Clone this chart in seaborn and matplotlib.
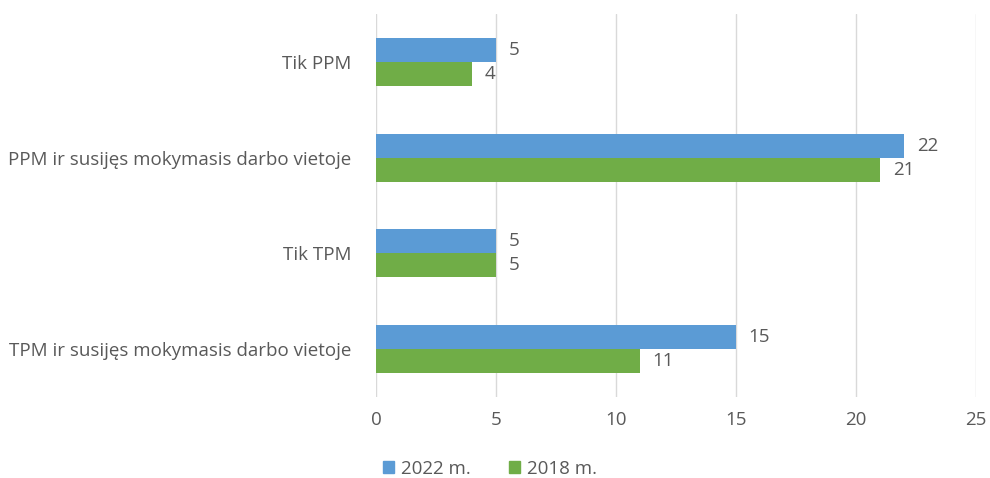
import pandas as pd
import matplotlib
matplotlib.use("Agg")
import matplotlib.pyplot as plt
import seaborn as sns

categories = ["Tik PPM", "PPM ir susijęs mokymasis darbo vietoje", "Tik TPM",
              "TPM ir susijęs mokymasis darbo vietoje"]
series = ["2022 m.", "2018 m."]
values_2022 = [5, 22, 5, 15]
values_2018 = [4, 21, 5, 11]
colors = ["#5B9BD5", "#70AD47"]
xticks = [0, 5, 10, 15, 20, 25]

df = pd.DataFrame({
    "kategorija": categories * 2,
    "metai": [series[0]] * 4 + [series[1]] * 4,
    "reiksme": values_2022 + values_2018,
})

sns.set_style("white")
plt.rcParams['font.family'] = ['Open Sans', 'DejaVu Sans']
text_col = "#595959"
fs = 13.5

fig = plt.figure(figsize=(9.9, 4.78), dpi=100)
ax = fig.add_axes([0.38, 0.17, 0.606, 0.80])

sns.barplot(data=df, y="kategorija", x="reiksme", hue="metai", order=categories,
            hue_order=series, palette=colors, width=0.505, orient="h",
            saturation=1, linewidth=0, ax=ax, legend=False)

for cont in ax.containers:
    ax.bar_label(cont, padding=9, fontsize=fs, color=text_col)

ax.set_xlim(0, 25)
ax.set_ylim(3.5, -0.5)
ax.set_xticks(xticks)
ax.xaxis.grid(True, color="#D9D9D9", linewidth=1)
ax.set_axisbelow(True)
for s in ax.spines.values():
    s.set_visible(False)
ax.set_xlabel("")
ax.set_ylabel("")
ax.tick_params(axis="x", length=0, pad=10, labelsize=fs, labelcolor=text_col)
ax.tick_params(axis="y", length=0, pad=18, labelsize=fs, labelcolor=text_col)

handles = [plt.Rectangle((0, 0), 1, 1, color=c) for c in colors]
fig.legend(handles, series, loc="lower center", bbox_to_anchor=(0.495, -0.035), ncol=2,
           frameon=False, fontsize=fs, labelcolor=text_col, handlelength=0.6,
           handleheight=0.6, handletextpad=0.4, columnspacing=2.0)

fig.savefig("out.png", dpi=100)
